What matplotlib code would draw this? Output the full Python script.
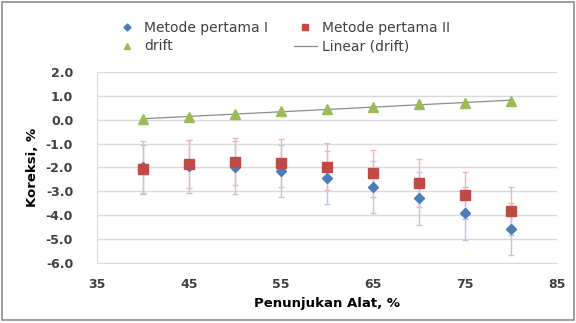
import numpy as np
import matplotlib
matplotlib.use("Agg")
import matplotlib.pyplot as plt
from matplotlib.patches import Rectangle

x = [40, 45, 50, 55, 60, 65, 70, 75, 80]
metode1 = [-2.0, -1.95, -2.0, -2.15, -2.43, -2.82, -3.3, -3.92, -4.58]
metode2 = [-2.05, -1.85, -1.75, -1.8, -1.96, -2.25, -2.64, -3.17, -3.82]
err1 = [1.1, 1.1, 1.1, 1.1, 1.1, 1.1, 1.1, 1.1, 1.1]
err2 = [1.0, 1.0, 1.0, 1.0, 1.0, 1.0, 1.0, 1.0, 1.0]
drift = [0.03, 0.12, 0.23, 0.35, 0.45, 0.55, 0.65, 0.72, 0.78]

blue = "#4A7EBB"
red = "#BE4B48"
green = "#9BBB59"

plt.rcParams['font.family'] = ['DejaVu Sans']

fig = plt.figure(figsize=(5.76, 3.23), dpi=100)
ax = fig.add_axes([0.168, 0.186, 0.799, 0.591])

fig.patches.append(Rectangle((0.004, 0.008), 0.992, 0.986, transform=fig.transFigure,
                             fill=False, edgecolor="#8c8c8c", linewidth=1.2))

ax.errorbar(x, metode1, yerr=err1, fmt="none", ecolor="#b3cbe8", elinewidth=1,
            capsize=2.5, capthick=1, zorder=2)
ax.errorbar(x, metode2, yerr=err2, fmt="none", ecolor="#f2b5b5", elinewidth=1,
            capsize=2.5, capthick=1, zorder=2)
h1, = ax.plot(x, metode1, linestyle="none", marker="D", markersize=5.5, color=blue,
              label="Metode pertama I", zorder=3)
h2, = ax.plot(x, metode2, linestyle="none", marker="s", markersize=7, color=red,
              label="Metode pertama II", zorder=4)
h3, = ax.plot(x, drift, linestyle="none", marker="^", markersize=6.5, color=green,
              label="drift", zorder=4)

k, b = np.polyfit(x, drift, 1)
xs = np.array([40, 80])
h4, = ax.plot(xs, k * xs + b, color="#8c8c8c", linewidth=0.9, label="Linear (drift)", zorder=3)

ax.set_xlim(35, 85)
ax.set_ylim(-6, 2)
ax.set_xticks(np.arange(35, 86, 10))
ax.set_yticks(np.arange(-6, 2.1, 1))
ax.set_yticklabels(["%.1f" % v for v in np.arange(-6, 2.1, 1)])
ax.yaxis.grid(True, color="#d9d9d9", linewidth=1)
ax.set_axisbelow(True)
for s in ["top", "right"]:
    ax.spines[s].set_visible(False)
ax.spines["left"].set_color("#d9d9d9")
ax.spines["bottom"].set_color("#d9d9d9")
ax.tick_params(axis="y", length=0, labelsize=9, pad=17)
ax.tick_params(axis="x", length=0, labelsize=9, pad=11)
for lab in ax.get_xticklabels() + ax.get_yticklabels():
    lab.set_fontweight("bold")
    lab.set_color("#404040")

ax.set_xlabel("Penunjukan Alat, %", fontsize=9.5, fontweight="bold", labelpad=4)
ax.set_ylabel("Koreksi, %", fontsize=9.5, fontweight="bold", labelpad=5)

leg = fig.legend(handles=[h1, h3, h2, h4], loc="upper left", bbox_to_anchor=(0.18, 0.975),
                 ncol=2, frameon=False, fontsize=10, handlelength=1.6, handletextpad=0.4,
                 columnspacing=1.9, labelspacing=0.35, markerscale=0.65)
for t in leg.get_texts():
    t.set_color("#404040")

fig.savefig("out.png", dpi=100)
